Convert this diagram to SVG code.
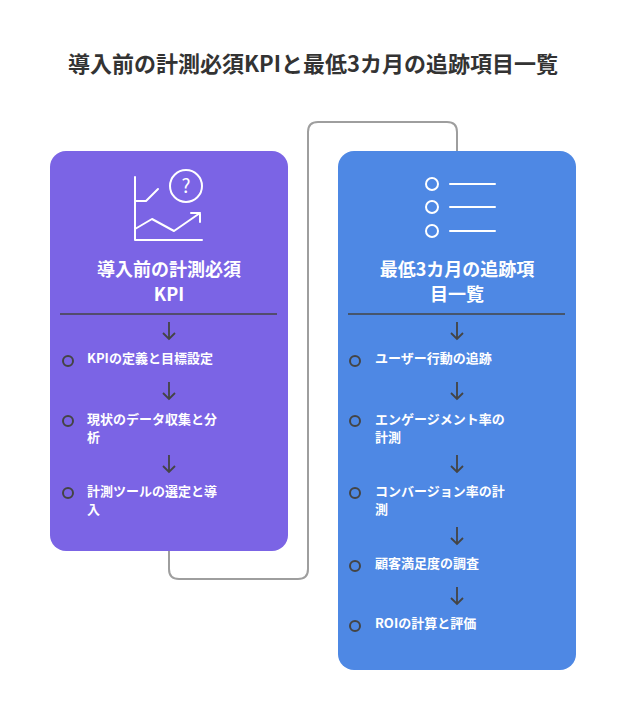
<svg xmlns="http://www.w3.org/2000/svg" width="626" height="721" viewBox="0 0 626 721">
<style>
text{font-family:"Noto Sans CJK JP","Noto Sans",sans-serif;font-weight:bold}
.t{fill:#333;font-size:22px}
.h{fill:#fff;font-size:18px;text-anchor:middle}
.i{fill:#fff;font-size:13px}
.ic{fill:none;stroke:#fff;stroke-width:2;stroke-linecap:round;stroke-linejoin:round}
.ar{fill:none;stroke:#444;stroke-width:1.8}
.dot{fill:none;stroke:#444;stroke-width:2}
.dv{stroke:#444;stroke-width:1.5}
</style>
<rect width="626" height="721" fill="#fff"/>
<text class="t" x="313" y="72" text-anchor="middle">導入前の計測必須KPIと最低3カ月の追跡項目一覧</text>
<g id="connectors">
<path d="M169 551 V569 Q169 579 179 579 H298 Q308 579 308 569 V132 Q308 122 318 122 H447 Q457 122 457 132 V151" fill="none" stroke="#9e9e9e" stroke-width="2"/>
</g>
<g id="left">
<rect x="50" y="151" width="238" height="400" rx="16" fill="#7B64E5"/>
<path class="ic" d="M135 177V240H202M135 201H146L158 189M135 229L152 219L174 231L200 213M191 213H200V222"/>
<circle class="ic" cx="186" cy="186" r="16"/>
<text x="186" y="193" fill="#fff" font-size="19" font-weight="normal" text-anchor="middle" style="font-weight:normal">?</text>
<text class="h" x="169" y="276">導入前の計測必須</text>
<text class="h" x="169" y="301">KPI</text>
<line class="dv" x1="60" y1="314" x2="277" y2="314"/>
<path class="ar" d="M169 322V339M163 333L169 339L175 333M169 382V399M163 393L169 399L175 393M169 455V472M163 466L169 472L175 466"/>
<circle class="dot" cx="68" cy="361" r="5"/><circle class="dot" cx="68" cy="421" r="5"/><circle class="dot" cx="68" cy="493" r="5"/>
<text class="i" x="87" y="363">KPIの定義と目標設定</text>
<text class="i" x="87" y="424">現状のデータ収集と分</text><text class="i" x="87" y="442">析</text>
<text class="i" x="87" y="496">計測ツールの選定と導</text><text class="i" x="87" y="514">入</text>
</g>
<g id="right">
<rect x="338" y="151" width="238" height="519" rx="16" fill="#4E88E4"/>
<circle class="ic" cx="432" cy="184" r="6"/><circle class="ic" cx="432" cy="207" r="6"/><circle class="ic" cx="432" cy="231" r="6"/>
<path class="ic" d="M450 184H495M450 207H495M450 231H495"/>
<text class="h" x="457" y="276">最低3カ月の追跡項</text>
<text class="h" x="457" y="301">目一覧</text>
<line class="dv" x1="348" y1="314" x2="565" y2="314"/>
<path class="ar" d="M457 322V339M451 333L457 339L463 333M457 382V399M451 393L457 399L463 393M457 455V472M451 466L457 472L463 466M457 527V544M451 538L457 544L463 538M457 587V604M451 598L457 604L463 598"/>
<circle class="dot" cx="355" cy="361" r="5"/><circle class="dot" cx="355" cy="421" r="5"/><circle class="dot" cx="355" cy="493" r="5"/><circle class="dot" cx="355" cy="566" r="5"/><circle class="dot" cx="355" cy="626" r="5"/>
<text class="i" x="375" y="363">ユーザー行動の追跡</text>
<text class="i" x="375" y="424">エンゲージメント率の</text><text class="i" x="375" y="442">計測</text>
<text class="i" x="375" y="496">コンバージョン率の計</text><text class="i" x="375" y="514">測</text>
<text class="i" x="375" y="568">顧客満足度の調査</text>
<text class="i" x="375" y="628">ROIの計算と評価</text>
</g>
</svg>
